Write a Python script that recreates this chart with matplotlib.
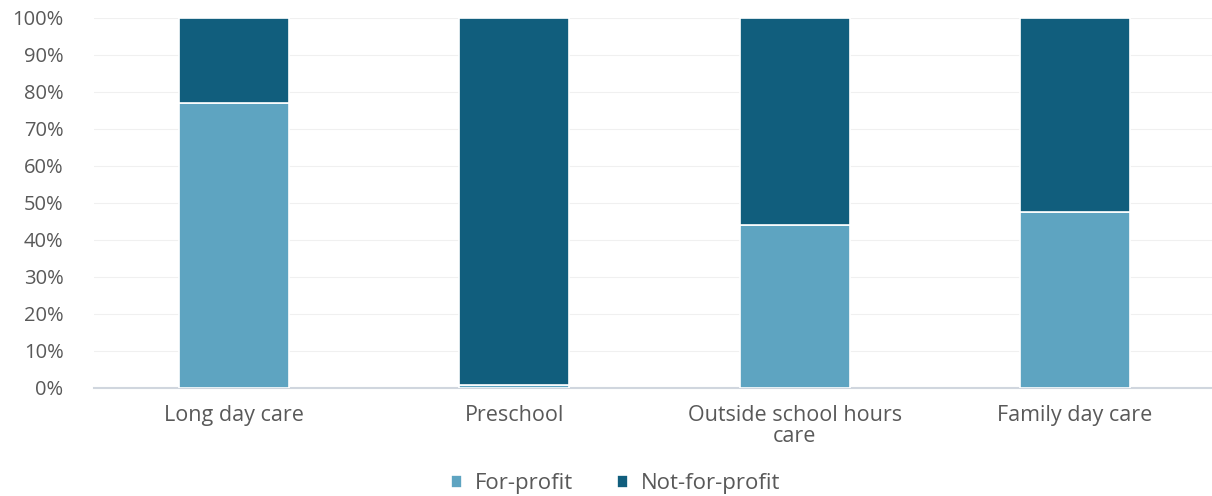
import matplotlib
matplotlib.use("Agg")
import matplotlib.pyplot as plt
from matplotlib.ticker import PercentFormatter

categories = ["Long day care", "Preschool", "Outside school hours\ncare", "Family day care"]
for_profit = [77.0, 0.8, 44.0, 47.6]
not_for_profit = [100 - v for v in for_profit]
series_names = ["For-profit", "Not-for-profit"]
colors = ["#5ea4c1", "#115e7d"]

plt.rcParams["font.family"] = ["Open Sans", "DejaVu Sans"]
text_color = "#595959"

fig = plt.figure(figsize=(12.12, 4.96), dpi=100)
ax = fig.add_axes([0.0776, 0.218, 0.9248, 0.746])

x = range(len(categories))
ax.bar(x, for_profit, width=0.393, color=colors[0], edgecolor="white",
       linewidth=1.2, label=series_names[0], zorder=3)
ax.bar(x, not_for_profit, width=0.393, bottom=for_profit, color=colors[1],
       edgecolor="white", linewidth=1.2, label=series_names[1], zorder=3)

ax.set_xlim(-0.5, len(categories) - 0.5)
ax.set_ylim(0, 100)
ax.set_yticks(range(0, 101, 10))
ax.yaxis.set_major_formatter(PercentFormatter(decimals=0))
ax.set_xticks(list(x))
ax.set_xticklabels(categories, fontsize=15.5, color=text_color, linespacing=1.0)
ax.tick_params(axis="y", labelsize=14.5, labelcolor=text_color, length=0, pad=22)
ax.tick_params(axis="x", length=0, pad=12)

ax.grid(axis="y", color="#f0f0f0", linewidth=0.8, zorder=0)
for side in ["top", "right", "left"]:
    ax.spines[side].set_visible(False)
ax.spines["bottom"].set_color("#d0d6de")
ax.spines["bottom"].set_linewidth(1.5)

fig.legend(loc="center", bbox_to_anchor=(0.508, 0.025), ncol=2, frameon=False,
           fontsize=16, handlelength=0.5, handleheight=0.5, handletextpad=0.55,
           columnspacing=2.0, labelcolor=text_color)

fig.savefig("out.png", dpi=100, facecolor="white")
